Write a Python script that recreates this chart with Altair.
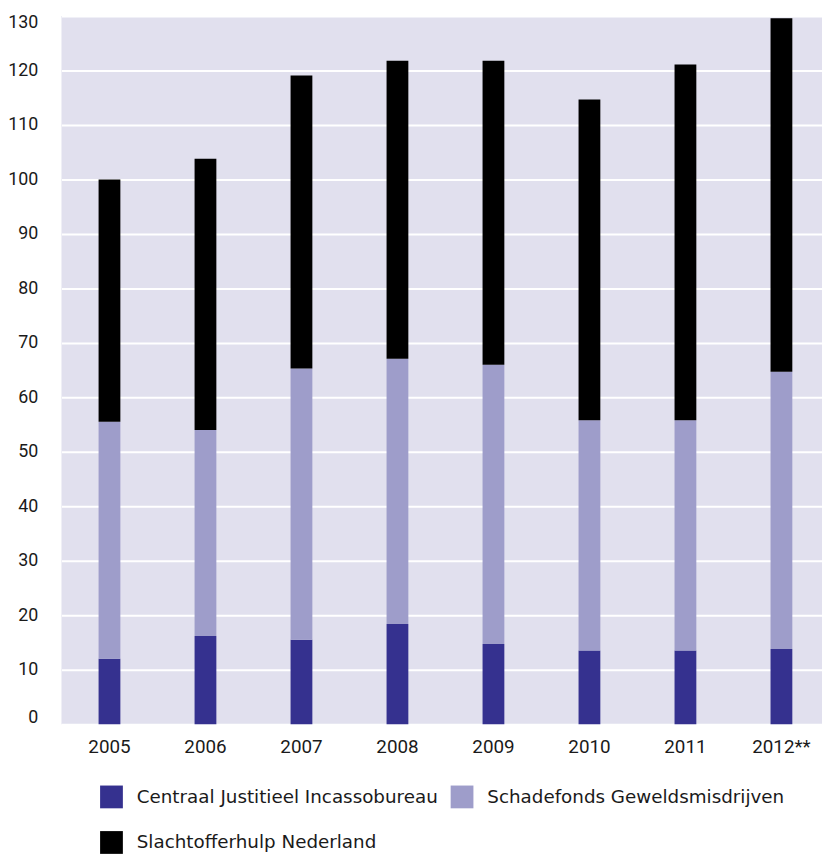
import altair as alt
import pandas as pd

years = ["2005", "2006", "2007", "2008", "2009", "2010", "2011", "2012**"]
series = ["Centraal Justitieel Incassobureau", "Schadefonds Geweldsmisdrijven", "Slachtofferhulp Nederland"]
cji = [12.0, 16.2, 15.5, 18.4, 14.7, 13.5, 13.5, 13.8]
sgm = [43.5, 37.8, 49.8, 48.7, 51.3, 42.3, 42.3, 50.9]
shn = [44.5, 49.8, 53.8, 54.7, 55.8, 58.9, 65.3, 64.9]
colors = ["#35318f", "#9e9dca", "#000000"]
y_ticks = list(range(0, 131, 10))

rows = []
for i, y in enumerate(years):
    for k, vals in enumerate([cji, sgm, shn]):
        rows.append({"jaar": y, "reeks": series[k], "waarde": vals[i], "volg": k})
df = pd.DataFrame(rows)

chart = alt.Chart(df).mark_bar(size=22).encode(
    x=alt.X("jaar:N", sort=years, title=None,
            scale=alt.Scale(range=[0, 775.5], paddingInner=0.77, paddingOuter=0.385),
            axis=alt.Axis(labelAngle=0, labelFont="Roboto", labelFontSize=19,
                          labelColor="#1a1a1a", labelPadding=14, ticks=False,
                          domain=False, grid=False)),
    y=alt.Y("waarde:Q", stack="zero", title=None,
            scale=alt.Scale(domain=[0, 130], nice=False),
            axis=alt.Axis(values=y_ticks, labelFont="Roboto", labelFontSize=18,
                          labelColor="#1a1a1a", labelPadding=24, ticks=False,
                          domain=False, grid=True, gridColor="#ffffff",
                          gridWidth=2, gridOpacity=1, labelFlush=True,
                          labelFlushOffset=2)),
    color=alt.Color("reeks:N", sort=series, title=None,
                    scale=alt.Scale(domain=series, range=colors),
                    legend=alt.Legend(orient="none", legendX=39, legendY=777,
                                      columns=2, direction="horizontal",
                                      symbolType="square", symbolSize=529,
                                      symbolStrokeWidth=0, symbolOpacity=1,
                                      labelFont="DejaVu Sans",
                                      labelFontSize=18.5, labelColor="#1a1a1a",
                                      labelOffset=14, columnPadding=12,
                                      rowPadding=23, padding=0,
                                      labelLimit=500)),
    order=alt.Order("volg:Q", sort="ascending"),
).properties(
    width=768,
    height=715,
    background="#ffffff",
    autosize=alt.AutoSizeParams(type="none"),
    padding={"left": 54, "top": 4, "right": 0, "bottom": 132},
).configure_view(
    fill="#e1e0ee", strokeWidth=0
)

chart.save("out.html", embed_options={"renderer": "svg", "actions": False})
